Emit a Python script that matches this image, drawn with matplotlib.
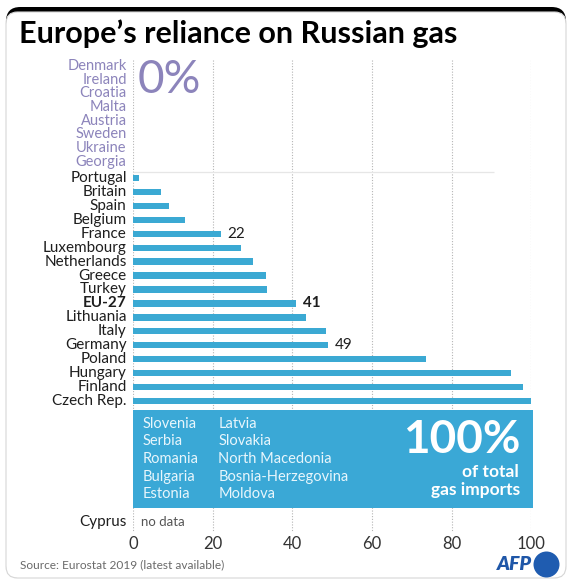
"""Europe's reliance on Russian gas - AFP style bar chart"""

import matplotlib
matplotlib.use("Agg")
import matplotlib.pyplot as plt
from matplotlib.patches import FancyBboxPatch, Rectangle, Ellipse

plt.rcParams['font.family'] = ['Lato', 'DejaVu Sans']

# ---- data ----
zero_countries = ['Denmark', 'Ireland', 'Croatia', 'Malta',
                  'Austria', 'Sweden', 'Ukraine', 'Georgia']
countries = ['Portugal', 'Britain', 'Spain', 'Belgium', 'France', 'Luxembourg',
             'Netherlands', 'Greece', 'Turkey', 'EU-27', 'Lithuania', 'Italy',
             'Germany', 'Poland', 'Hungary', 'Finland', 'Czech Rep.']
shares = [1.5, 7, 9, 13, 22, 27, 30, 33.3, 33.7, 41, 43.3, 48.5,
          49, 73.5, 95, 97.8, 100]
labelled = {'France': 22, 'EU-27': 41, 'Germany': 49}
full_col1 = ['Slovenia', 'Serbia', 'Romania', 'Bulgaria', 'Estonia']
full_col2 = ['Latvia', 'Slovakia', 'North Macedonia', 'Bosnia-Herzegovina', 'Moldova']
xticks = [0, 20, 40, 60, 80, 100]

BAR = '#3ba9d3'
BOX = '#3aa8d6'
ZERO = '#8c84bb'
DARK = '#1e1e1e'

W, H = 572, 582


def fx(px):
    return px / W


def fy(py):
    return 1 - py / H


# vertical layout: row 0 = Portugal at 178 px, Czech Rep. at 401 px
row0_px, step_px = 178, (401 - 178) / 16


def prow(py):
    return (py - row0_px) / step_px


fig = plt.figure(figsize=(W / 100, H / 100), dpi=100)
fig.patch.set_facecolor('white')

# card with black top edge
fig.patches.append(FancyBboxPatch((fx(6), fy(578)), fx(560), (578 - 7) / H,
                                  boxstyle='round,pad=0,rounding_size=0.025',
                                  transform=fig.transFigure, fc='black', ec='none',
                                  zorder=-5))
fig.patches.append(FancyBboxPatch((fx(6), fy(578)), fx(560), (578 - 12) / H,
                                  boxstyle='round,pad=0,rounding_size=0.02',
                                  transform=fig.transFigure, fc='white', ec='#d6d6d6',
                                  lw=0.8, zorder=-4))

fig.text(fx(19), fy(34), 'Europe\u2019s reliance on Russian gas', fontsize=22,
         fontweight='bold', color='black', va='center', ha='left')

top_px, bot_px = 60, 532
ax = fig.add_axes([fx(133), fy(bot_px), fx(531.4) - fx(133), (bot_px - top_px) / H])
ax.set_zorder(2)
ax.set_xlim(0, 100)
ax.set_ylim(prow(bot_px), prow(top_px))
ax.patch.set_alpha(0)
for s in ax.spines.values():
    s.set_visible(False)
ax.set_yticks([])
ax.set_xticks(xticks)
ax.set_xticklabels([str(t) for t in xticks], fontsize=12, color='#333333')
ax.tick_params(axis='x', length=0, pad=3)

ymin, ymax = ax.get_ylim()
ax.vlines(xticks, ymax, ymin, colors='#b5b5b5', linestyles=(0, (1, 1.5)),
          lw=0.8, zorder=0)

# zero-share countries
for i, name in enumerate(zero_countries):
    ax.text(-1.6, prow(66 + i * 13.7), name, ha='right', va='center',
            fontsize=10.5, color=ZERO, clip_on=False)
ax.text(1.2, prow(80), '0%', ha='left', va='center', fontsize=33,
        fontweight='normal', color=ZERO)
ax.hlines(prow(172), 0, 90.5, colors='#e6e6e6', lw=0.9, zorder=0)

# bars
rows = list(range(len(countries)))
ax.barh(rows, shares, height=0.45, color=BAR, zorder=2)
for r, name in zip(rows, countries):
    bold = name == 'EU-27'
    ax.text(-1.6, r, name, ha='right', va='center', fontsize=11, color=DARK,
            fontweight='bold' if bold else 'normal', clip_on=False)
    if name in labelled:
        ax.text(shares[r] + 1.6, r, str(labelled[name]), ha='left', va='center',
                fontsize=11, color=DARK, fontweight='bold' if bold else 'normal')

# 100% box
box_top, box_bot = prow(410), prow(508)
ax.add_patch(Rectangle((0, box_top), 100.4, box_bot - box_top, fc=BOX, ec='none',
                       zorder=3, clip_on=False))
for i, (a, b) in enumerate(zip(full_col1, full_col2)):
    yy = prow(423.5 + i * 17.7)
    ax.text(2.3, yy, a, ha='left', va='center', fontsize=10.5, color='#e8f6fc', zorder=4)
    ax.text(21.4, yy, b, ha='left', va='center', fontsize=10.5, color='#e8f6fc', zorder=4)
ax.text(97.2, prow(440), '100%', ha='right', va='center',
        fontsize=33, fontweight='bold', color='white', zorder=4)
ax.text(96.8, prow(472), 'of total', ha='right', va='center',
        fontsize=12.5, fontweight='bold', color='white', zorder=4)
ax.text(97.2, prow(490), 'gas imports', ha='right', va='center',
        fontsize=12.5, fontweight='bold', color='white', zorder=4)

# no data
ax.text(-1.6, prow(522), 'Cyprus', ha='right', va='center', fontsize=11, color=DARK,
        clip_on=False)
ax.text(2.0, prow(522), 'no data', ha='left', va='center', fontsize=9.5, color='#555555')

# footer
fig.text(fx(20), fy(565), 'Source: Eurostat 2019 (latest available)', fontsize=8.6,
         color='#6a6a6a', ha='left', va='center')
fig.text(fx(532), fy(565), 'AFP', fontsize=14, fontweight='heavy', fontstyle='italic',
         color='#1f57a8', ha='right', va='center')
fig.patches.append(Ellipse((fx(546.5), fy(564.5)), 26 / W, 26 / H,
                           transform=fig.transFigure, fc='#1f5cb0', ec='none'))

fig.savefig('out.png', dpi=100)
